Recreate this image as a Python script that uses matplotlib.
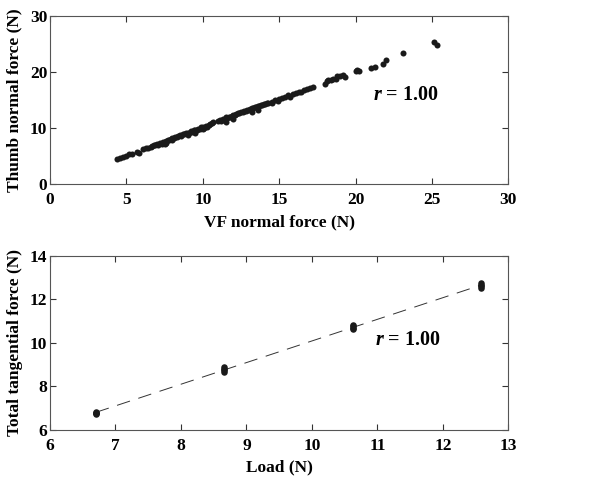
import numpy as np
import matplotlib.pyplot as plt

plt.rcParams['font.family'] = ['Liberation Serif', 'DejaVu Serif']
plt.rcParams['font.weight'] = 'bold'
plt.rcParams['mathtext.fontset'] = 'custom'
plt.rcParams['mathtext.it'] = 'Liberation Serif:bold:italic'
plt.rcParams['mathtext.rm'] = 'Liberation Serif:bold'

# Panel superior: fuerza normal del dedo virtual vs pulgar
vf_normal = [4.4, 4.6, 4.8, 5.0, 5.2, 5.4, 5.7, 5.8, 6.1, 6.3, 6.4, 6.6, 6.7, 6.8, 6.9,
             7.0, 7.1, 7.2, 7.3, 7.4, 7.5, 7.5, 7.6, 7.6, 7.7, 7.8, 7.9, 8.0, 8.0, 8.1,
             8.2, 8.3, 8.4, 8.5, 8.6, 8.7, 8.8, 8.9, 9.0, 9.0, 9.1, 9.2, 9.3, 9.4, 9.5,
             9.5, 9.6, 9.7, 9.8, 9.9, 10.0, 10.0, 10.1, 10.2, 10.3, 10.4, 10.5, 10.6,
             10.7, 11.0, 11.1, 11.2, 11.3, 11.4, 11.5, 11.5, 11.6, 11.7, 11.8, 11.9,
             12.0, 12.0, 12.1, 12.2, 12.3, 12.4, 12.5, 12.6, 12.7, 12.8, 12.9, 13.0,
             13.1, 13.2, 13.2, 13.3, 13.4, 13.5, 13.6, 13.6, 13.7, 13.8, 13.9, 14.0,
             14.1, 14.2, 14.3, 14.5, 14.5, 14.7, 14.9, 15.0, 15.2, 15.4, 15.6, 15.7,
             15.9, 16.1, 16.3, 16.4, 16.6, 16.8, 17.0, 17.2, 18.0, 18.1, 18.2, 18.4,
             18.5, 18.7, 18.8, 19.0, 19.2, 19.3, 20.0, 20.1, 20.2, 21.0, 21.3, 21.8,
             22.0, 23.1, 25.1, 25.3]
thumb_normal = [4.4, 4.6, 4.8, 5.1, 5.3, 5.4, 5.8, 5.6, 6.2, 6.5, 6.5, 6.6, 6.8, 6.9, 6.9,
                7.1, 7.0, 7.3, 7.2, 7.5, 7.6, 7.2, 7.7, 7.4, 7.9, 7.9, 8.1, 8.2, 7.9, 8.2,
                8.4, 8.4, 8.6, 8.7, 8.6, 8.9, 8.9, 9.1, 9.2, 8.8, 9.2, 9.4, 9.3, 9.6, 9.6,
                9.2, 9.7, 9.9, 9.8, 10.1, 10.2, 9.8, 10.0, 10.3, 10.2, 10.6, 10.7, 10.9,
                11.0, 11.3, 11.4, 11.3, 11.6, 11.5, 11.9, 11.1, 11.8, 12.0, 11.9, 12.2,
                12.3, 11.6, 12.4, 12.5, 12.6, 12.6, 12.9, 12.8, 13.0, 13.1, 13.2, 13.2,
                13.4, 13.5, 12.9, 13.5, 13.7, 13.8, 13.9, 13.3, 14.0, 14.1, 14.1, 14.3,
                14.3, 14.5, 14.4, 14.7, 14.4, 15.0, 14.8, 15.2, 15.3, 15.5, 15.9, 15.6,
                16.1, 16.3, 16.5, 16.5, 16.8, 16.9, 17.2, 17.4, 17.9, 18.4, 18.6, 18.5,
                18.8, 18.7, 19.2, 19.2, 19.4, 19.1, 20.2, 20.3, 20.2, 20.7, 20.8, 21.5,
                22.1, 23.4, 25.4, 24.8]

# Panel inferior: carga vs fuerza tangencial total
carga = [6.70, 6.70, 6.70, 6.70, 8.65, 8.65, 8.65, 8.65, 10.63, 10.63, 10.63, 10.63,
         12.58, 12.58, 12.58, 12.58]
fuerza_tangencial = [6.72, 6.76, 6.80, 6.84, 8.68, 8.75, 8.82, 8.88, 10.62, 10.70, 10.78,
                     10.84, 12.52, 12.60, 12.68, 12.74]

color_punto = '#1a1a1a'

fig = plt.figure(figsize=(6, 4.82), dpi=100)

ax1 = fig.add_axes([0.0833, 0.618, 0.764, 0.349])
ax1.scatter(vf_normal, thumb_normal, s=19, color=color_punto, linewidths=0, zorder=3)
ax1.set_xlim(0, 30)
ax1.set_ylim(0, 30)
ax1.set_xticks([0, 5, 10, 15, 20, 25, 30])
ax1.set_yticks([0, 10, 20, 30])
ax1.set_xlabel('VF normal force (N)', fontsize=12.5, fontweight='bold', labelpad=4)
ax1.set_ylabel('Thumb normal force (N)', fontsize=12.5, fontweight='bold', labelpad=5)
ax1.text(23.3, 15.9, r'$\mathit{r}$ = 1.00', fontsize=14.5, fontweight='bold',
         ha='center', va='center')

ax2 = fig.add_axes([0.0833, 0.108, 0.764, 0.361])
ax2.scatter(carga, fuerza_tangencial, s=22, color=color_punto, linewidths=0, zorder=3)
# recta de regresion ajustada a los datos
m, b = np.polyfit(carga, fuerza_tangencial, 1)
xl = np.array([min(carga), max(carga)])
ax2.plot(xl, m * xl + b, color='#333333', linewidth=0.7, dashes=(14, 9))
ax2.set_xlim(6, 13)
ax2.set_ylim(6, 14)
ax2.set_xticks(range(6, 14))
ax2.set_yticks([6, 8, 10, 12, 14])
ax2.set_xlabel('Load (N)', fontsize=12.5, fontweight='bold', labelpad=4)
ax2.set_ylabel('Total tangential force (N)', fontsize=12.5, fontweight='bold', labelpad=5)
ax2.text(11.46, 10.14, r'$\mathit{r}$ = 1.00', fontsize=14.5, fontweight='bold',
         ha='center', va='center')

for ax in (ax1, ax2):
    ax.tick_params(direction='in', length=4, width=0.8, top=True, right=True,
                   labelsize=12.5, colors='#333333', labelcolor='black')
    ax.tick_params(axis='x', pad=6)
    ax.tick_params(axis='y', pad=2)
    for s in ax.spines.values():
        s.set_color('#555555')
        s.set_linewidth(0.8)

fig.savefig('out.png', dpi=100)
